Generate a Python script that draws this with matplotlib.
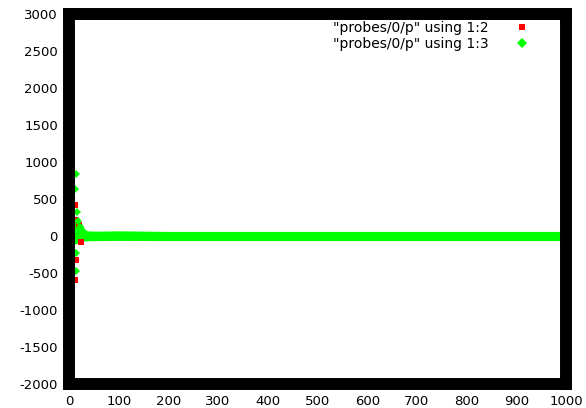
import matplotlib
matplotlib.use("Agg")
from matplotlib import pyplot as plt

plt.rcParams['font.family'] = ['DejaVu Sans']
plt.rcParams['axes.unicode_minus'] = False

# probe samples, column 2 (start-up transient)
t_col2 = [2, 4, 13, 15, 20, 24, 14, 13]
p_col2 = [1030, 790, 420, 210, 150, -80, -330, -600]

# probe samples, column 3 (start-up transient)
t_col3 = [14, 13, 16, 18, 22, 15, 14]
p_col3 = [840, 640, 330, 200, 120, -230, -470]

# column 3 oscillation envelope after the transient
band_t = [10, 15, 20, 25, 30, 35, 40, 60, 100, 200, 300, 400, 500, 600, 700, 800, 900, 1000]
band_hi = [210, 210, 200, 180, 110, 75, 68, 66, 70, 62, 62, 62, 62, 62, 62, 62, 62, 62]
band_lo = [-110, -100, -85, -72, -68, -66, -64, -62, -60, -62, -62, -62, -62, -62, -62, -62, -62, -62]

x_ticks = list(range(0, 1001, 100))
y_ticks = list(range(-2000, 3001, 500))

fig = plt.figure(figsize=(5.86, 4.08), dpi=100)
ax = fig.add_axes([69 / 586, 1 - 384 / 408, (566 - 69) / 586, (384 - 14) / 408])

ax.plot(t_col2, p_col2, 's', color='#ff0000', markersize=4.3, markeredgewidth=0,
        label='"probes/0/p" using 1:2')
ax.fill_between(band_t, band_lo, band_hi, color='#00ff00', linewidth=0)
ax.plot(t_col3, p_col3, 'D', color='#00ff00', markersize=4.5, markeredgewidth=0,
        label='"probes/0/p" using 1:3')

ax.set_xlim(0, 1000)
ax.set_ylim(-2000, 3000)
ax.set_xticks(x_ticks)
ax.set_yticks(y_ticks)
ax.tick_params(length=0, labelsize=9.5, pad=8)

for s in ax.spines.values():
    s.set_linewidth(8.6)
    s.set_color('black')

ax.legend(loc='upper right', bbox_to_anchor=(529 / 586, 1 - 21 / 408),
          bbox_transform=fig.transFigure, frameon=False, markerfirst=False,
          fontsize=10, handlelength=1, handletextpad=1.9, labelspacing=0.15,
          borderpad=0, borderaxespad=0, markerscale=1.05)

fig.savefig("out.png", dpi=100)
